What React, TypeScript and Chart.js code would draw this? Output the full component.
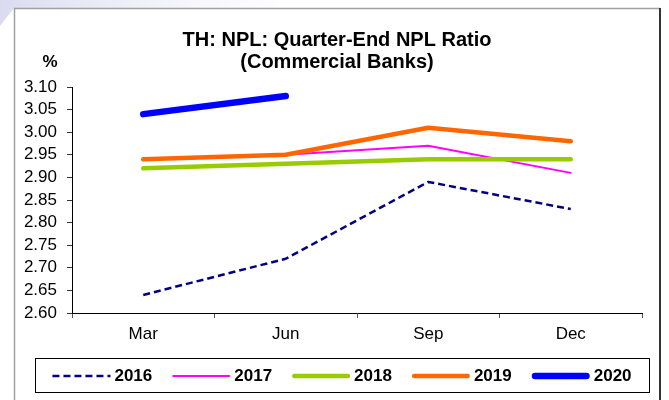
import React, { useEffect, useRef } from "react";
import { Chart, registerables } from "chart.js";

Chart.register(...registerables);

// ---- data ----
const categories = ["Mar", "Jun", "Sep", "Dec"];
const seriesLabels = ["2016", "2017", "2018", "2019", "2020"];
const npl2016 = [2.64, 2.72, 2.89, 2.83];
const npl2017 = [2.94, 2.95, 2.97, 2.91];
const npl2018 = [2.92, 2.93, 2.94, 2.94];
const npl2019 = [2.94, 2.95, 3.01, 2.98];
const npl2020 = [3.04, 3.08, null, null];
const yMin = 2.6;
const yMax = 3.1;
const yStep = 0.05;
const titleLines = ["TH: NPL: Quarter-End NPL Ratio", "(Commercial Banks)"];
const unitLabel = "%";

// ---- styles ----
const FONT = "'Liberation Sans', Arial, Helvetica, sans-serif";
const seriesColors = ["#000080", "#FF00FF", "#99CC00", "#FF6600", "#0000FF"];
const seriesWidths = [2.5, 2, 4.5, 4.5, 6.5];
const seriesDashes = [[7, 4], [], [], [], []];

const FRAME_LEFT = 14;
const FRAME_RIGHT = 660;
const FRAME_TOP = 8;

const framePlugin = {
  id: "frameDecor",
  beforeDraw(chart: any) {
    const { ctx, width, height } = chart;
    ctx.save();
    ctx.fillStyle = "#ffffff";
    ctx.fillRect(0, 0, width, height);
    // faint lavender band at top-left
    const g = ctx.createLinearGradient(0, 0, 300, 0);
    g.addColorStop(0, "rgba(215,215,238,0.9)");
    g.addColorStop(1, "rgba(235,235,248,0)");
    ctx.fillStyle = g;
    ctx.beginPath();
    ctx.moveTo(0, 0);
    ctx.lineTo(300, 0);
    ctx.lineTo(270, FRAME_TOP);
    ctx.lineTo(FRAME_LEFT, FRAME_TOP);
    ctx.lineTo(0, 26);
    ctx.closePath();
    ctx.fill();
    // outer frame
    ctx.lineWidth = 1.5;
    ctx.strokeStyle = "#a0a0a0";
    ctx.beginPath();
    ctx.moveTo(FRAME_LEFT + 0.5, height);
    ctx.lineTo(FRAME_LEFT + 0.5, FRAME_TOP + 0.5);
    ctx.lineTo(FRAME_RIGHT, FRAME_TOP + 0.5);
    ctx.stroke();
    ctx.lineWidth = 2;
    ctx.strokeStyle = "#333333";
    ctx.beginPath();
    ctx.moveTo(FRAME_RIGHT, FRAME_TOP);
    ctx.lineTo(FRAME_RIGHT, height);
    ctx.stroke();
    ctx.restore();
  },
  afterDraw(chart: any) {
    const { ctx, chartArea } = chart;
    ctx.save();
    // title (centred on the outer frame)
    ctx.fillStyle = "#000";
    ctx.font = `bold 20px ${FONT}`;
    ctx.textAlign = "center";
    ctx.textBaseline = "middle";
    const cx = (FRAME_LEFT + FRAME_RIGHT) / 2;
    titleLines.forEach((line, i) => {
      ctx.fillText(line, cx, chartArea.top - 47 + i * 22);
    });

    // unit label
    ctx.font = `bold 17px ${FONT}`;
    ctx.fillText(unitLabel, chartArea.left - 22, chartArea.top - 25);

    // legend box
    const boxLeft = chartArea.left - 37;
    const boxRight = chartArea.right + 7;
    const boxTop = chartArea.bottom + 45;
    const boxH = 34;
    ctx.lineWidth = 1;
    ctx.strokeStyle = "#000";
    ctx.strokeRect(boxLeft + 0.5, boxTop + 0.5, boxRight - boxLeft, boxH);

    const sampleW = 58;
    const gapText = 4;
    const gapItem = 20;
    ctx.font = `bold 17px ${FONT}`;
    const datasets = chart.data.datasets;
    const widths = datasets.map(
      (ds: any) => sampleW + gapText + ctx.measureText(ds.label).width
    );
    const total =
      widths.reduce((a: number, b: number) => a + b, 0) +
      gapItem * (datasets.length - 1);
    let x = (boxLeft + boxRight) / 2 - total / 2;
    const cy = boxTop + boxH / 2 + 1;
    datasets.forEach((ds: any, i: number) => {
      ctx.save();
      ctx.strokeStyle = ds.borderColor;
      ctx.lineWidth = ds.borderWidth;
      ctx.setLineDash(ds.borderDash || []);
      ctx.lineCap = ds.borderDash && ds.borderDash.length ? "butt" : "round";
      const inset = ctx.lineCap === "round" ? ds.borderWidth / 2 : 0;
      ctx.beginPath();
      ctx.moveTo(x + inset, cy);
      ctx.lineTo(x + sampleW - inset, cy);
      ctx.stroke();
      ctx.restore();
      ctx.fillStyle = "#000";
      ctx.textAlign = "left";
      ctx.textBaseline = "middle";
      ctx.fillText(ds.label, x + sampleW + gapText, cy);
      x += widths[i] + gapItem;
    });
    ctx.restore();
  },
};

const seriesValues = [npl2016, npl2017, npl2018, npl2019, npl2020];

export default function App() {
  const canvasRef = useRef<HTMLCanvasElement | null>(null);

  useEffect(() => {
    const canvas = canvasRef.current;
    if (!canvas) return;
    const chart = new Chart(canvas, {
      type: "line",
      data: {
        labels: categories,
        datasets: seriesLabels.map((label, i) => ({
          label,
          data: seriesValues[i],
          borderColor: seriesColors[i],
          backgroundColor: seriesColors[i],
          borderWidth: seriesWidths[i],
          borderDash: seriesDashes[i],
          borderCapStyle: seriesDashes[i].length ? "butt" : "round",
          borderJoinStyle: "round",
          pointRadius: 0,
          pointHoverRadius: 0,
          tension: 0,
          fill: false,
          spanGaps: false,
          order: seriesLabels.length - i,
        })),
      },
      options: {
        responsive: false,
        animation: false,
        devicePixelRatio: 1,
        events: [],
        layout: { padding: { left: 18, right: 27, top: 87, bottom: 47 } },
        plugins: {
          legend: { display: false },
          tooltip: { enabled: false },
          title: { display: false },
        },
        scales: {
          x: {
            type: "category",
            offset: true,
            grid: {
              offset: true,
              drawOnChartArea: false,
              drawTicks: true,
              tickLength: 5,
              color: "#555",
            },
            border: { display: true, color: "#000", width: 1 },
            ticks: {
              color: "#000",
              font: { family: FONT, size: 17 },
              padding: 6,
              maxRotation: 0,
              autoSkip: false,
            },
            afterFit: (s: any) => {
              s.height = 40;
            },
          },
          y: {
            min: yMin,
            max: yMax,
            grid: {
              drawOnChartArea: false,
              drawTicks: true,
              tickLength: 5,
              color: "#333",
            },
            border: { display: true, color: "#000", width: 1 },
            ticks: {
              stepSize: yStep,
              autoSkip: false,
              padding: 10,
              color: "#000",
              font: { family: FONT, size: 17 },
              callback: (v: any) => Number(v).toFixed(2),
            },
            afterFit: (s: any) => {
              s.width = 54;
            },
          },
        },
      } as any,
      plugins: [framePlugin],
    });
    return () => chart.destroy();
  }, []);

  return (
    <div style={{ position: "absolute", left: 0, top: 0, width: 669, height: 400 }}>
      <canvas ref={canvasRef} width={669} height={400} style={{ display: "block", width: 669, height: 400 }} />
    </div>
  );
}
